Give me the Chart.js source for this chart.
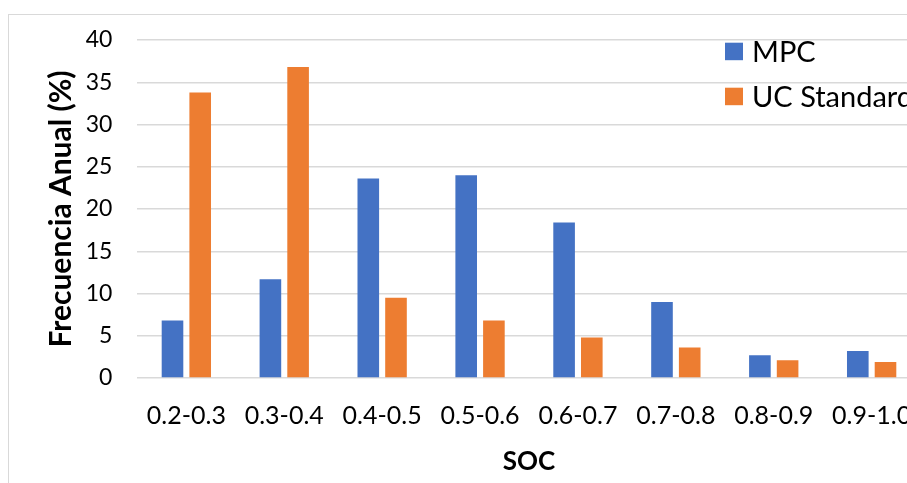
<!DOCTYPE html>
<html>
<head>
<meta charset="utf-8">
<script src="https://cdn.jsdelivr.net/npm/chart.js@4/dist/chart.umd.min.js"></script>
<style>
  html, body { margin: 0; padding: 0; background: #ffffff; overflow: hidden; width: 907px; height: 483px; }
  #frame { position: absolute; left: 8px; top: 14px; width: 960px; height: 480px; border-left: 1px solid #d9d9d9; border-top: 1px solid #d9d9d9; background: #fff; }
  #wrap { position: absolute; left: 0; top: 0; width: 940px; height: 468px; }
</style>
</head>
<body>
<div id="frame"><div id="wrap"><canvas id="c" width="940" height="468"></canvas></div></div>
<script>
// SOC bins and annual frequency (%) per control strategy
const categories = ['0.2-0.3', '0.3-0.4', '0.4-0.5', '0.5-0.6', '0.6-0.7', '0.7-0.8', '0.8-0.9', '0.9-1.0'];
const mpcValues = [6.8, 11.7, 23.6, 24.0, 18.4, 9.0, 2.7, 3.2];
const ucStandardValues = [33.8, 36.8, 9.5, 6.8, 4.8, 3.6, 2.1, 1.9];
const seriesNames = ['MPC', 'UC Standard'];
const yTicks = [0, 5, 10, 15, 20, 25, 30, 35, 40];

const FONT = 'Lato, "Open Sans", "Noto Sans", sans-serif';
const BLUE = '#4472C4';
const ORANGE = '#ED7D31';

// Legend drawn inside the plot, top-right, stacked vertically
const sideLegend = {
  id: 'sideLegend',
  afterDraw(chart) {
    const ctx = chart.ctx;
    ctx.save();
    ctx.font = '29px ' + FONT;
    ctx.textBaseline = 'middle';
    ctx.textAlign = 'left';
    chart.data.datasets.forEach((ds, i) => {
      const bx = 716, by = 27.7 + i * 45;
      ctx.fillStyle = ds.backgroundColor;
      ctx.fillRect(bx, by, 18, 17.5);
      ctx.fillStyle = '#000000';
      ctx.fillText(ds.label, bx + 27, by + 9.5);
    });
    ctx.restore();
  }
};

new Chart(document.getElementById('c'), {
  type: 'bar',
  data: {
    labels: categories,
    datasets: [
      { label: seriesNames[0], data: mpcValues, backgroundColor: BLUE },
      { label: seriesNames[1], data: ucStandardValues, backgroundColor: ORANGE }
    ]
  },
  options: {
    responsive: false,
    animation: false,
    devicePixelRatio: 1,
    layout: { padding: { left: 0, top: 25, right: 28.4, bottom: 0 } },
    datasets: { bar: { categoryPercentage: 0.566, barPercentage: 0.78 } },
    plugins: { legend: { display: false }, tooltip: { enabled: false } },
    scales: {
      x: {
        grid: { display: false, drawTicks: false },
        border: { display: false },
        ticks: { color: '#000', font: { family: FONT, size: 25 }, padding: 23, maxRotation: 0, autoSkip: false },
        title: { display: true, text: 'SOC', color: '#000', font: { family: FONT, size: 26, weight: 'bold' }, padding: { top: 0, bottom: 6 } },
        afterFit(scale) { scale.height = 105; }
      },
      y: {
        min: 0, max: 40,
        afterBuildTicks(scale) { scale.ticks = yTicks.map(v => ({ value: v })); },
        grid: { color: '#d9d9d9', lineWidth: 1.5, drawTicks: false },
        border: { display: false },
        ticks: { color: '#000', font: { family: FONT, size: 23 }, padding: 25 },
        title: { display: true, text: 'Frecuencia Anual (%)', color: '#000', font: { family: FONT, size: 30, weight: 'bold' }, padding: { top: 34.5, bottom: 0 } },
        afterFit(scale) {
          scale.width = 128.4;
          scale.paddingTop = 0;
          scale.paddingBottom = 0;
        }
      }
    }
  },
  plugins: [sideLegend]
});
</script>
</body>
</html>
